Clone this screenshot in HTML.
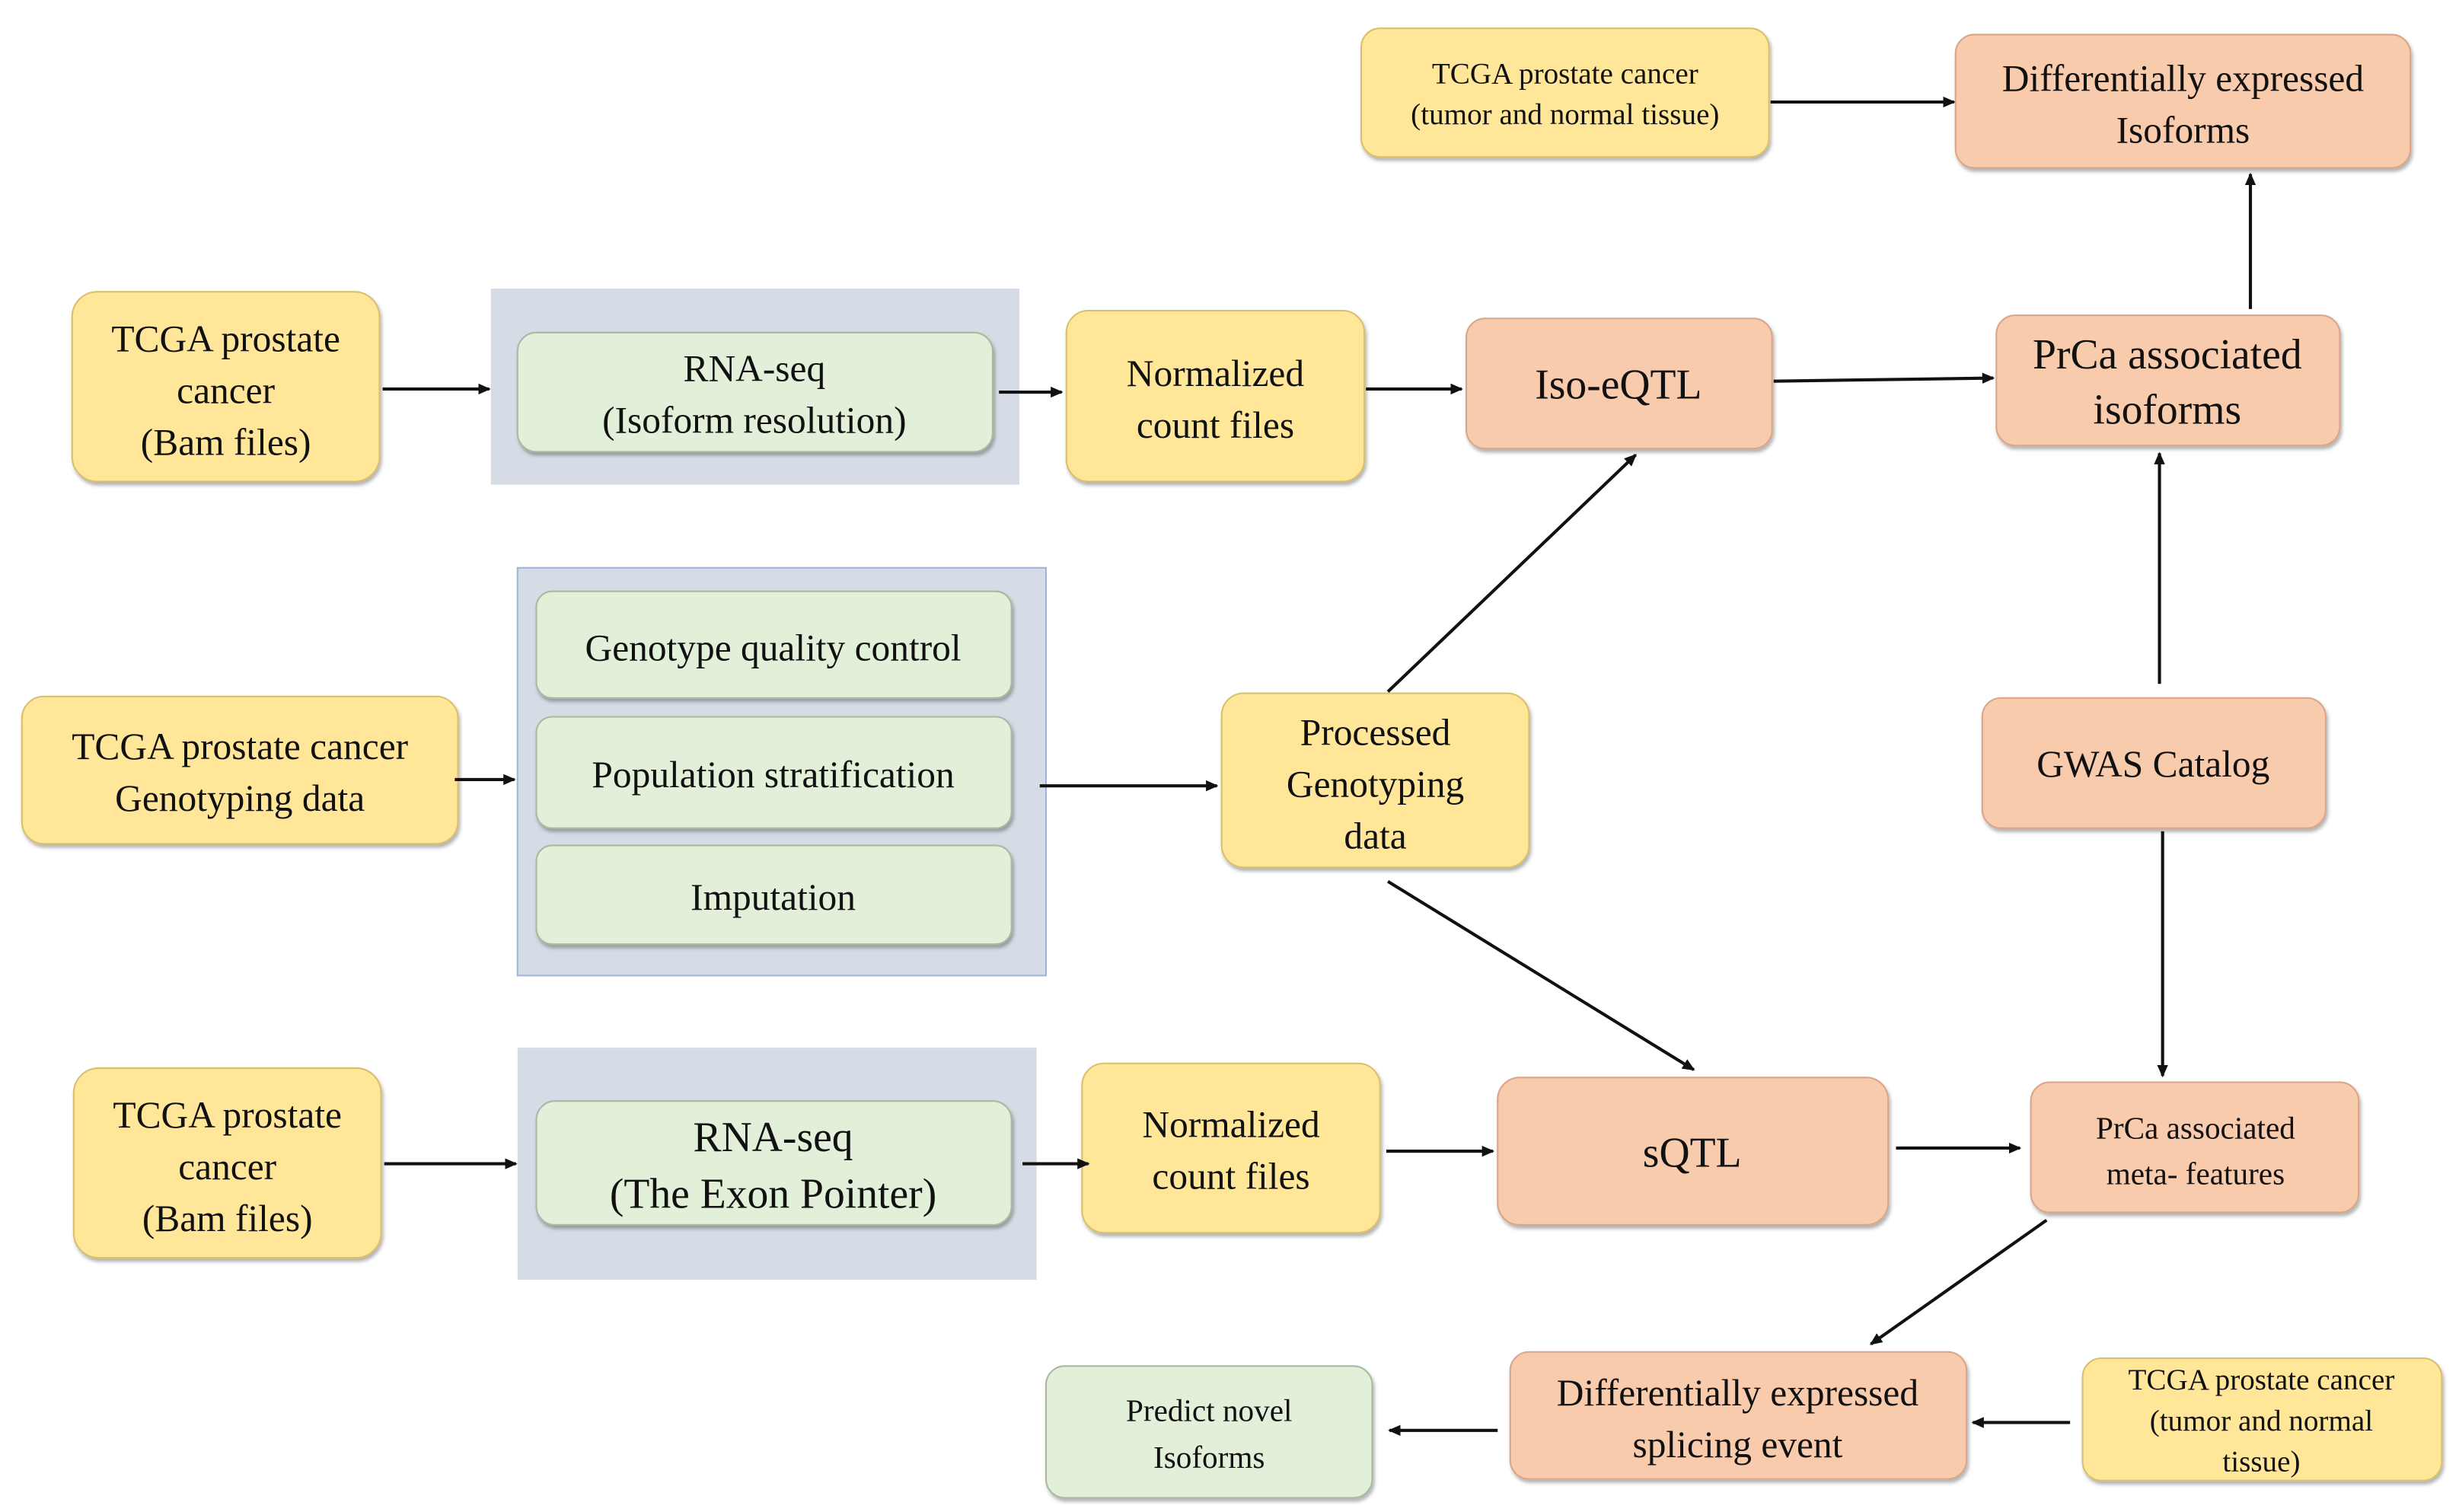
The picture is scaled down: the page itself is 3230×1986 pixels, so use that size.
<!DOCTYPE html>
<html><head><meta charset="utf-8"><style>
html,body{margin:0;padding:0;background:#fff;}
svg{display:block;}
text{font-family:"Liberation Serif",serif;fill:#111;text-anchor:middle;}
</style></head><body>
<svg width="3230" height="1986" viewBox="0 0 1568 964" xmlns="http://www.w3.org/2000/svg">
<defs>
<marker id="a" markerWidth="8" markerHeight="8" refX="7" refY="4" orient="auto" markerUnits="userSpaceOnUse">
<path d="M0,0.5 L8,4 L0,7.5 z" fill="#111"/></marker>
<filter id="s" x="-10%" y="-10%" width="120%" height="130%"><feDropShadow dx="1" dy="2" stdDeviation="1.2" flood-color="#000" flood-opacity="0.3"/></filter>
</defs>
<g filter="url(#s)">
<!-- panels -->
</g>
<rect x="313" y="184" width="337" height="125" fill="#D6DCE5"/>
<rect x="330" y="362" width="337" height="260" fill="#D6DCE5" stroke="#9fb4d8" stroke-width="1"/>
<rect x="330" y="668" width="331" height="148" fill="#D6DCE5"/>
<g filter="url(#s)" stroke-width="1">
<!-- yellow -->
<rect x="868" y="18" width="260" height="82" rx="12" fill="#FFE699" stroke="#d9bf6a"/>
<rect x="46" y="186" width="196" height="121" rx="16" fill="#FFE699" stroke="#d9bf6a"/>
<rect x="680" y="198" width="190" height="109" rx="14" fill="#FFE699" stroke="#d9bf6a"/>
<rect x="14" y="444" width="278" height="94" rx="14" fill="#FFE699" stroke="#d9bf6a"/>
<rect x="779" y="442" width="196" height="111" rx="14" fill="#FFE699" stroke="#d9bf6a"/>
<rect x="47" y="681" width="196" height="121" rx="16" fill="#FFE699" stroke="#d9bf6a"/>
<rect x="690" y="678" width="190" height="108" rx="14" fill="#FFE699" stroke="#d9bf6a"/>
<rect x="1328" y="866" width="229" height="78" rx="12" fill="#FFE699" stroke="#d9bf6a"/>
<!-- salmon -->
<rect x="1247" y="22" width="290" height="85" rx="12" fill="#F8CBAD" stroke="#d9a588"/>
<rect x="935" y="203" width="195" height="83" rx="12" fill="#F8CBAD" stroke="#d9a588"/>
<rect x="1273" y="201" width="219" height="83" rx="12" fill="#F8CBAD" stroke="#d9a588"/>
<rect x="1264" y="445" width="219" height="83" rx="12" fill="#F8CBAD" stroke="#d9a588"/>
<rect x="955" y="687" width="249" height="94" rx="14" fill="#F8CBAD" stroke="#d9a588"/>
<rect x="1295" y="690" width="209" height="83" rx="12" fill="#F8CBAD" stroke="#d9a588"/>
<rect x="963" y="862" width="291" height="81" rx="12" fill="#F8CBAD" stroke="#d9a588"/>
<!-- green -->
<rect x="330" y="212" width="303" height="76" rx="12" fill="#E2F0D9" stroke="#a9b8a0"/>
<rect x="342" y="377" width="303" height="68" rx="10" fill="#E2F0D9" stroke="#a9b8a0"/>
<rect x="342" y="457" width="303" height="71" rx="10" fill="#E2F0D9" stroke="#a9b8a0"/>
<rect x="342" y="539" width="303" height="63" rx="10" fill="#E2F0D9" stroke="#a9b8a0"/>
<rect x="342" y="702" width="303" height="79" rx="12" fill="#E2F0D9" stroke="#a9b8a0"/>
<rect x="667" y="871" width="208" height="84" rx="12" fill="#E2F0D9" stroke="#a9b8a0"/>
</g>
<!-- text -->
<g font-size="19">
<text x="998" y="53">TCGA prostate cancer</text><text x="998" y="79">(tumor and normal tissue)</text>
<text x="1442" y="886">TCGA prostate cancer</text><text x="1442" y="912">(tumor and normal</text><text x="1442" y="938">tissue)</text>
</g>
<g font-size="24">
<text x="1392" y="58">Differentially expressed</text><text x="1392" y="91">Isoforms</text>
<text x="144" y="224">TCGA prostate</text><text x="144" y="257">cancer</text><text x="144" y="290">(Bam files)</text>
<text x="481" y="243">RNA-seq</text><text x="481" y="276">(Isoform resolution)</text>
<text x="775" y="246">Normalized</text><text x="775" y="279">count files</text>
<text x="153" y="484">TCGA prostate cancer</text><text x="153" y="517">Genotyping data</text>
<text x="493" y="421">Genotype quality control</text>
<text x="493" y="502">Population stratification</text>
<text x="493" y="580">Imputation</text>
<text x="877" y="475">Processed</text><text x="877" y="508">Genotyping</text><text x="877" y="541">data</text>
<text x="1373" y="495">GWAS Catalog</text>
<text x="145" y="719">TCGA prostate</text><text x="145" y="752">cancer</text><text x="145" y="785">(Bam files)</text>
<text x="785" y="725">Normalized</text><text x="785" y="758">count files</text>
<text x="1108" y="896">Differentially expressed</text><text x="1108" y="929">splicing event</text>
</g>
<g font-size="27">
<text x="1032" y="254">Iso-eQTL</text>
<text x="1382" y="235">PrCa associated</text><text x="1382" y="270">isoforms</text>
<text x="493" y="734">RNA-seq</text><text x="493" y="770">(The Exon Pointer)</text>
<text x="1079" y="744">sQTL</text>
</g>
<g font-size="20">
<text x="1400" y="726">PrCa associated</text><text x="1400" y="755">meta- features</text>
<text x="771" y="906">Predict novel</text><text x="771" y="936">Isoforms</text>
</g>
<!-- arrows -->
<g stroke="#111" stroke-width="2" fill="none" marker-end="url(#a)">
<line x1="244" y1="248" x2="312" y2="248"/>
<line x1="637" y1="250" x2="677" y2="250"/>
<line x1="871" y1="248" x2="932" y2="248"/>
<line x1="1131" y1="243" x2="1271" y2="241"/>
<line x1="1129" y1="65" x2="1246" y2="65"/>
<line x1="1435" y1="197" x2="1435" y2="111"/>
<line x1="1377" y1="436" x2="1377" y2="289"/>
<line x1="290" y1="497" x2="328" y2="497"/>
<line x1="663" y1="501" x2="776" y2="501"/>
<line x1="885" y1="441" x2="1043" y2="290"/>
<line x1="885" y1="562" x2="1080" y2="682"/>
<line x1="1379" y1="530" x2="1379" y2="686"/>
<line x1="245" y1="742" x2="329" y2="742"/>
<line x1="652" y1="742" x2="694" y2="742"/>
<line x1="884" y1="734" x2="952" y2="734"/>
<line x1="1209" y1="732" x2="1288" y2="732"/>
<line x1="1305" y1="778" x2="1193" y2="857"/>
<line x1="1320" y1="907" x2="1258" y2="907"/>
<line x1="955" y1="912" x2="886" y2="912"/>
</g>
</svg>
</body></html>
